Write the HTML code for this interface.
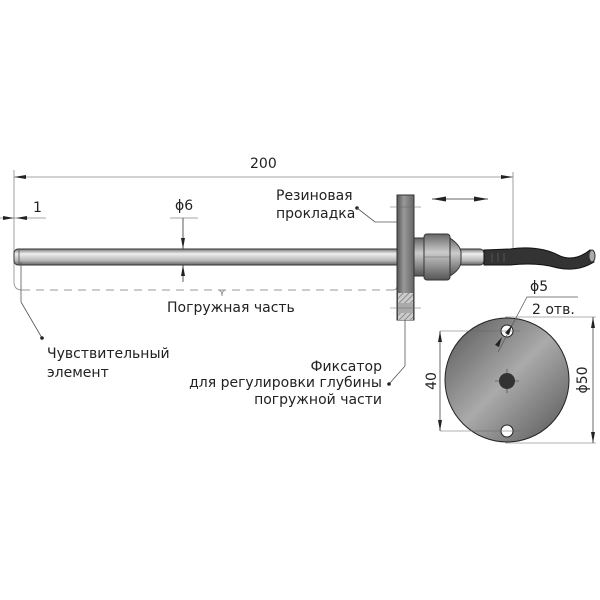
<!DOCTYPE html>
<html><head><meta charset="utf-8"><style>
html,body{margin:0;padding:0;background:#fff;}
svg{display:block;}
text{font-family:"DejaVu Sans","Liberation Sans",sans-serif;font-size:14px;fill:#222;}
</style></head><body>
<svg width="600" height="600" viewBox="0 0 600 600" xmlns="http://www.w3.org/2000/svg">
<defs>
<linearGradient id="rod" x1="0" y1="0" x2="0" y2="1">
<stop offset="0" stop-color="#777"/><stop offset="0.3" stop-color="#eee"/><stop offset="0.7" stop-color="#bbb"/><stop offset="1" stop-color="#666"/>
</linearGradient>
<linearGradient id="disk" x1="0" y1="0" x2="1" y2="1">
<stop offset="0" stop-color="#555"/><stop offset="0.5" stop-color="#aaa"/><stop offset="1" stop-color="#555"/>
</linearGradient>
<linearGradient id="fl" x1="0" y1="0" x2="1" y2="0">
<stop offset="0" stop-color="#555"/><stop offset="0.4" stop-color="#999"/><stop offset="1" stop-color="#666"/>
</linearGradient>
<linearGradient id="nut" x1="0" y1="0" x2="0" y2="1">
<stop offset="0" stop-color="#666"/><stop offset="0.4" stop-color="#ccc"/><stop offset="1" stop-color="#555"/>
</linearGradient>
<pattern id="hatch" width="4" height="4" patternUnits="userSpaceOnUse" patternTransform="rotate(45)">
<rect width="4" height="4" fill="#ccc"/><line x1="0" y1="0" x2="0" y2="4" stroke="#777" stroke-width="1.5"/>
</pattern>
</defs>

<!-- 200 dimension -->
<line x1="14" y1="170" x2="14" y2="282" stroke="#888" stroke-width="0.8"/>
<path d="M14 282 Q14 290 22 290" fill="none" stroke="#888" stroke-width="0.8"/>
<line x1="513" y1="172" x2="513" y2="250" stroke="#888" stroke-width="0.8"/>
<line x1="14" y1="177" x2="513" y2="177" stroke="#888" stroke-width="0.8"/>
<polygon points="14,177 26,175 26,179" fill="#222"/>
<polygon points="513,177 501,175 501,179" fill="#222"/>
<text x="250" y="168">200</text>

<!-- 1 dimension -->
<line x1="0" y1="218" x2="46" y2="218" stroke="#888" stroke-width="0.8"/>
<polygon points="14,218 3,216 3,220" fill="#222"/>
<polygon points="16,218 27,216 27,220" fill="#222"/>
<text x="33" y="212">1</text>

<!-- phi6 -->
<line x1="170" y1="218" x2="198" y2="218" stroke="#888" stroke-width="0.8"/>
<line x1="183" y1="218" x2="183" y2="282" stroke="#333" stroke-width="0.8"/>
<polygon points="183,249 181,238 185,238" fill="#222"/>
<polygon points="183,265 181,276 185,276" fill="#222"/>
<text x="175" y="210">ϕ6</text>

<!-- rod -->
<rect x="14" y="249" width="470" height="16" rx="4" fill="url(#rod)" stroke="#333" stroke-width="1"/>
<line x1="19" y1="250" x2="19" y2="264" stroke="#555" stroke-width="0.8"/>

<!-- dashed -->
<line x1="22" y1="290" x2="393" y2="290" stroke="#999" stroke-width="1" stroke-dasharray="8,6"/>
<path d="M393 290 Q397 290 397 286" fill="none" stroke="#999"/>
<path d="M218 290 Q222 290 222 296 Q222 290 226 290" fill="none" stroke="#999"/>
<text x="167" y="312">Погружная часть</text>

<!-- sensing element leader -->
<line x1="21" y1="262" x2="21" y2="302" stroke="#555" stroke-width="0.8"/>
<line x1="21" y1="302" x2="42" y2="338" stroke="#555" stroke-width="0.8"/>
<circle cx="42" cy="338" r="1.8" fill="#222"/>
<text x="47" y="358">Чувствительный</text>
<text x="47" y="377">элемент</text>

<!-- flange -->
<rect x="397" y="195" width="17" height="125" fill="url(#fl)" stroke="#333" stroke-width="1"/>
<rect x="398" y="293" width="15" height="10" fill="url(#hatch)"/>
<rect x="398" y="303" width="15" height="10" fill="#aaa"/>
<rect x="398" y="313" width="15" height="7" fill="url(#hatch)"/>
<line x1="390" y1="207" x2="421" y2="207" stroke="#666" stroke-width="0.6"/>
<line x1="390" y1="308" x2="421" y2="308" stroke="#666" stroke-width="0.6"/>
<line x1="405" y1="320" x2="405" y2="366" stroke="#555" stroke-width="0.8"/>
<line x1="405" y1="366" x2="389" y2="384" stroke="#555" stroke-width="0.8"/>
<circle cx="389" cy="384" r="1.8" fill="#222"/>
<text x="382" y="371" text-anchor="end">Фиксатор</text>
<text x="382" y="387" text-anchor="end">для регулировки глубины</text>
<text x="382" y="404" text-anchor="end">погружной части</text>

<!-- rubber gasket -->
<text x="276" y="200">Резиновая</text>
<text x="276" y="218">прокладка</text>
<circle cx="357" cy="208" r="1.8" fill="#222"/>
<polyline points="357,208 375,222 397,222" fill="none" stroke="#555" stroke-width="0.8"/>

<!-- nut -->
<rect x="414" y="238" width="10" height="38" fill="url(#nut)" stroke="#333"/>
<rect x="424" y="234" width="26" height="46" rx="3" fill="url(#nut)" stroke="#333"/>
<line x1="424" y1="257" x2="450" y2="257" stroke="#666" stroke-width="0.6"/>
<path d="M450 238 Q460 245 461 252 L461 262 Q460 270 450 276 Z" fill="url(#nut)" stroke="#333"/>

<!-- cable -->
<path d="M484 250 L510 249 Q540 245 560 256 Q575 262 590 250 L594 262 Q578 272 558 268 Q538 262 510 265 L484 265 Z" fill="#333" stroke="#111"/>
<line x1="492" y1="253" x2="492" y2="262" stroke="#555"/>
<line x1="498" y1="253" x2="498" y2="262" stroke="#555"/>
<line x1="504" y1="253" x2="504" y2="262" stroke="#555"/>
<ellipse cx="592" cy="256" rx="3" ry="6" fill="#aaa" stroke="#333"/>

<!-- move arrow -->
<line x1="432" y1="199" x2="488" y2="199" stroke="#333" stroke-width="0.8"/>
<polygon points="432,199 446,196.5 446,201.5" fill="#222"/>
<polygon points="488,199 474,196.5 474,201.5" fill="#222"/>

<!-- disk -->
<circle cx="507" cy="380" r="62" fill="url(#disk)" stroke="#222" stroke-width="1"/>
<circle cx="507" cy="331" r="6" fill="#fff" stroke="#222"/>
<circle cx="507" cy="431" r="6" fill="#fff" stroke="#222"/>
<circle cx="507" cy="381" r="8" fill="#333"/>
<line x1="495" y1="381" x2="519" y2="381" stroke="#333" stroke-width="0.6"/>
<line x1="507" y1="369" x2="507" y2="393" stroke="#333" stroke-width="0.6"/>
<line x1="440" y1="331" x2="520" y2="331" stroke="#666" stroke-width="0.6"/>
<line x1="440" y1="431" x2="520" y2="431" stroke="#666" stroke-width="0.6"/>
<line x1="505" y1="317" x2="596" y2="317" stroke="#666" stroke-width="0.6"/>
<line x1="505" y1="443" x2="596" y2="443" stroke="#666" stroke-width="0.6"/>
<line x1="440" y1="331" x2="440" y2="431" stroke="#444" stroke-width="0.8"/>
<polygon points="440,331 438,342 442,342" fill="#222"/>
<polygon points="440,431 438,420 442,420" fill="#222"/>
<text transform="translate(436,381) rotate(-90)" text-anchor="middle">40</text>
<line x1="593" y1="317" x2="593" y2="443" stroke="#444" stroke-width="0.8"/>
<polygon points="593,317 591,328 595,328" fill="#222"/>
<polygon points="593,443 591,432 595,432" fill="#222"/>
<text transform="translate(587,380) rotate(-90)" text-anchor="middle">ϕ50</text>
<!-- phi5 leader -->
<polyline points="498,352 527,297 578,297" fill="none" stroke="#555" stroke-width="0.7"/>
<polygon points="512,325 509,335 505,333" fill="#222"/>
<polygon points="502,337 499,347 495,345" fill="#222"/>
<text x="530" y="291">ϕ5</text>
<text x="532" y="314">2 отв.</text>
</svg>
</body></html>
